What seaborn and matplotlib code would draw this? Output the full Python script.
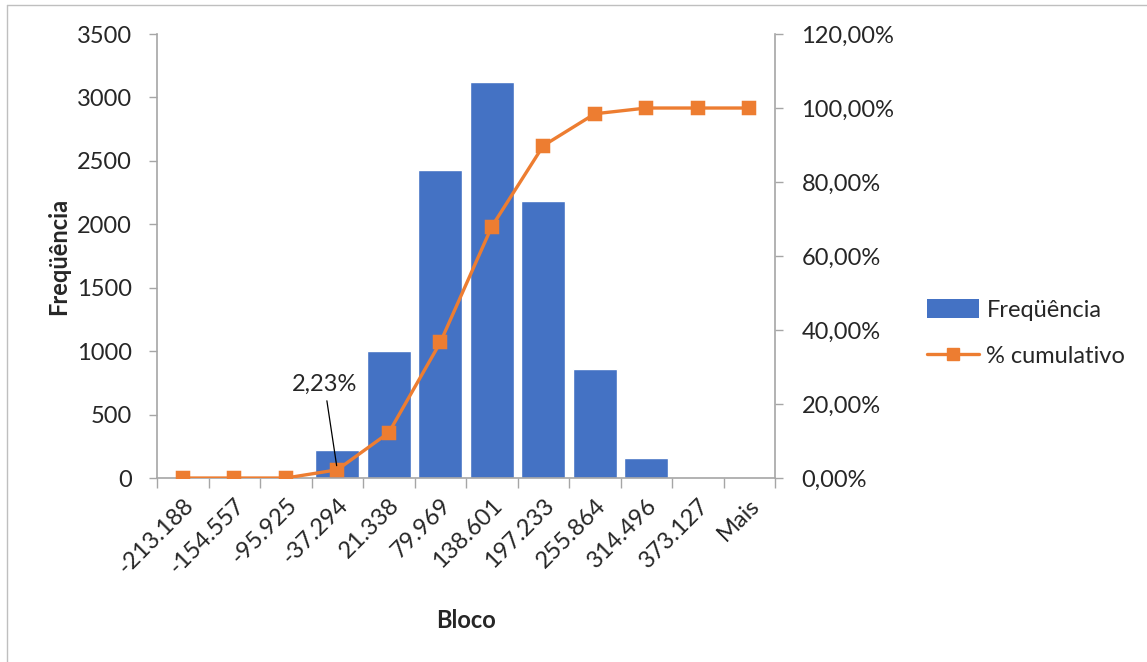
import numpy as np
import pandas as pd
import matplotlib
matplotlib.use("Agg")
import matplotlib.pyplot as plt
from matplotlib.lines import Line2D
from matplotlib.patches import Patch
from matplotlib.ticker import FuncFormatter, FixedLocator, NullFormatter
import seaborn as sns

# Histogram bins (upper bounds) and counts
blocos = ["-213.188", "-154.557", "-95.925", "-37.294", "21.338", "79.969",
          "138.601", "197.233", "255.864", "314.496", "373.127", "Mais"]
frequencias = [0, 0, 0, 222, 1000, 2430, 3120, 2180, 860, 155, 0, 0]

cumulativo = np.cumsum(frequencias) / np.sum(frequencias) * 100.0
df = pd.DataFrame({"Bloco": blocos, "Freq": frequencias, "Cum": cumulativo})

BLUE = "#4472C4"
ORANGE = "#ED7D31"
GRAY = "#A6A6A6"
TXT = "#262626"
FS = 17

sns.set_theme(style="white")
plt.rcParams["font.family"] = ["Lato", "DejaVu Sans"]

fig = plt.figure(figsize=(11.47, 6.62), dpi=100)
ax = fig.add_axes([0.1369, 0.2779, 0.5388, 0.6707])

sns.barplot(data=df, x="Bloco", y="Freq", color=BLUE, saturation=1,
            width=0.85, ax=ax, order=blocos)

ax2 = ax.twinx()
sns.pointplot(data=df, x="Bloco", y="Cum", color=ORANGE, markers="s",
              linestyles="-", ax=ax2, order=blocos, markersize=8.5,
              linewidth=2.4)

n = len(blocos)
for a in (ax, ax2):
    a.set_xlim(-0.5, n - 0.5)
ax.set_ylim(0, 3500)
ax.set_yticks(np.arange(0, 3501, 500))
ax2.set_ylim(0, 120)
ax2.set_yticks(np.arange(0, 121, 20))
ax2.yaxis.set_major_formatter(FuncFormatter(
    lambda v, p: f"{v:.2f}".replace(".", ",") + "%"))

# x ticks: labels at bin centres, tick marks at bin boundaries
ax.set_xticks(np.arange(n))
ax.set_xticklabels(blocos, rotation=45, ha="right", rotation_mode="anchor",
                   fontsize=FS, color=TXT)
ax.tick_params(axis="x", which="major", length=0, pad=12)
ax.xaxis.set_minor_locator(FixedLocator(np.arange(-0.5, n, 1.0)))
ax.xaxis.set_minor_formatter(NullFormatter())
ax.tick_params(axis="x", which="minor", length=7, width=1, color=GRAY,
               direction="out", bottom=True)
ax2.tick_params(axis="x", which="both", length=0, labelbottom=False)

ax.tick_params(axis="y", length=6, width=1, color=GRAY, direction="out",
               labelsize=FS, labelcolor=TXT, pad=12, left=True)
ax2.tick_params(axis="y", length=6, width=1, color=GRAY, direction="out",
                labelsize=FS, labelcolor=TXT, pad=13, right=True)

for a in (ax, ax2):
    a.spines["top"].set_visible(False)
    for s in ("left", "right", "bottom"):
        a.spines[s].set_color(GRAY)
        a.spines[s].set_linewidth(1.2)
ax.spines["right"].set_visible(False)
ax2.spines["left"].set_visible(False)
ax2.spines["bottom"].set_visible(False)

ax.set_xlabel("Bloco", fontsize=FS, fontweight="bold", color=TXT,
              labelpad=22)
ax.set_ylabel("Freqüência", fontsize=FS, fontweight="bold", color=TXT,
              labelpad=5)
ax2.set_ylabel("")
ax2.set_xlabel("")

# Callout for the first non-zero cumulative share
k = 3
ax2.annotate(f"{cumulativo[k]:.2f}".replace(".", ",") + "%",
             xy=(k, cumulativo[k]), xytext=(k - 0.25, 22.5),
             ha="center", va="bottom", fontsize=FS, color=TXT,
             arrowprops=dict(arrowstyle="-", color="black", lw=0.9,
                             shrinkA=2, shrinkB=3))

handles = [Patch(facecolor=BLUE, edgecolor="none"),
           Line2D([0], [0], color=ORANGE, lw=2.4, marker="s", markersize=8)]
fig.legend(handles, ["Freqüência", "% cumulativo"], loc="center left",
           bbox_to_anchor=(0.79, 0.497), frameon=False, fontsize=FS,
           handlelength=2.2, handleheight=0.9, labelspacing=1.05,
           handletextpad=0.3, labelcolor=TXT)

# Thin chart-area border on the left and top edges
fig.add_artist(Line2D([0.006, 0.006], [0.0, 0.9925], color="#BFBFBF",
                      lw=1.0, transform=fig.transFigure))
fig.add_artist(Line2D([0.006, 1.0], [0.9925, 0.9925], color="#BFBFBF",
                      lw=1.0, transform=fig.transFigure))

fig.savefig("out.png", dpi=100, facecolor="white")
